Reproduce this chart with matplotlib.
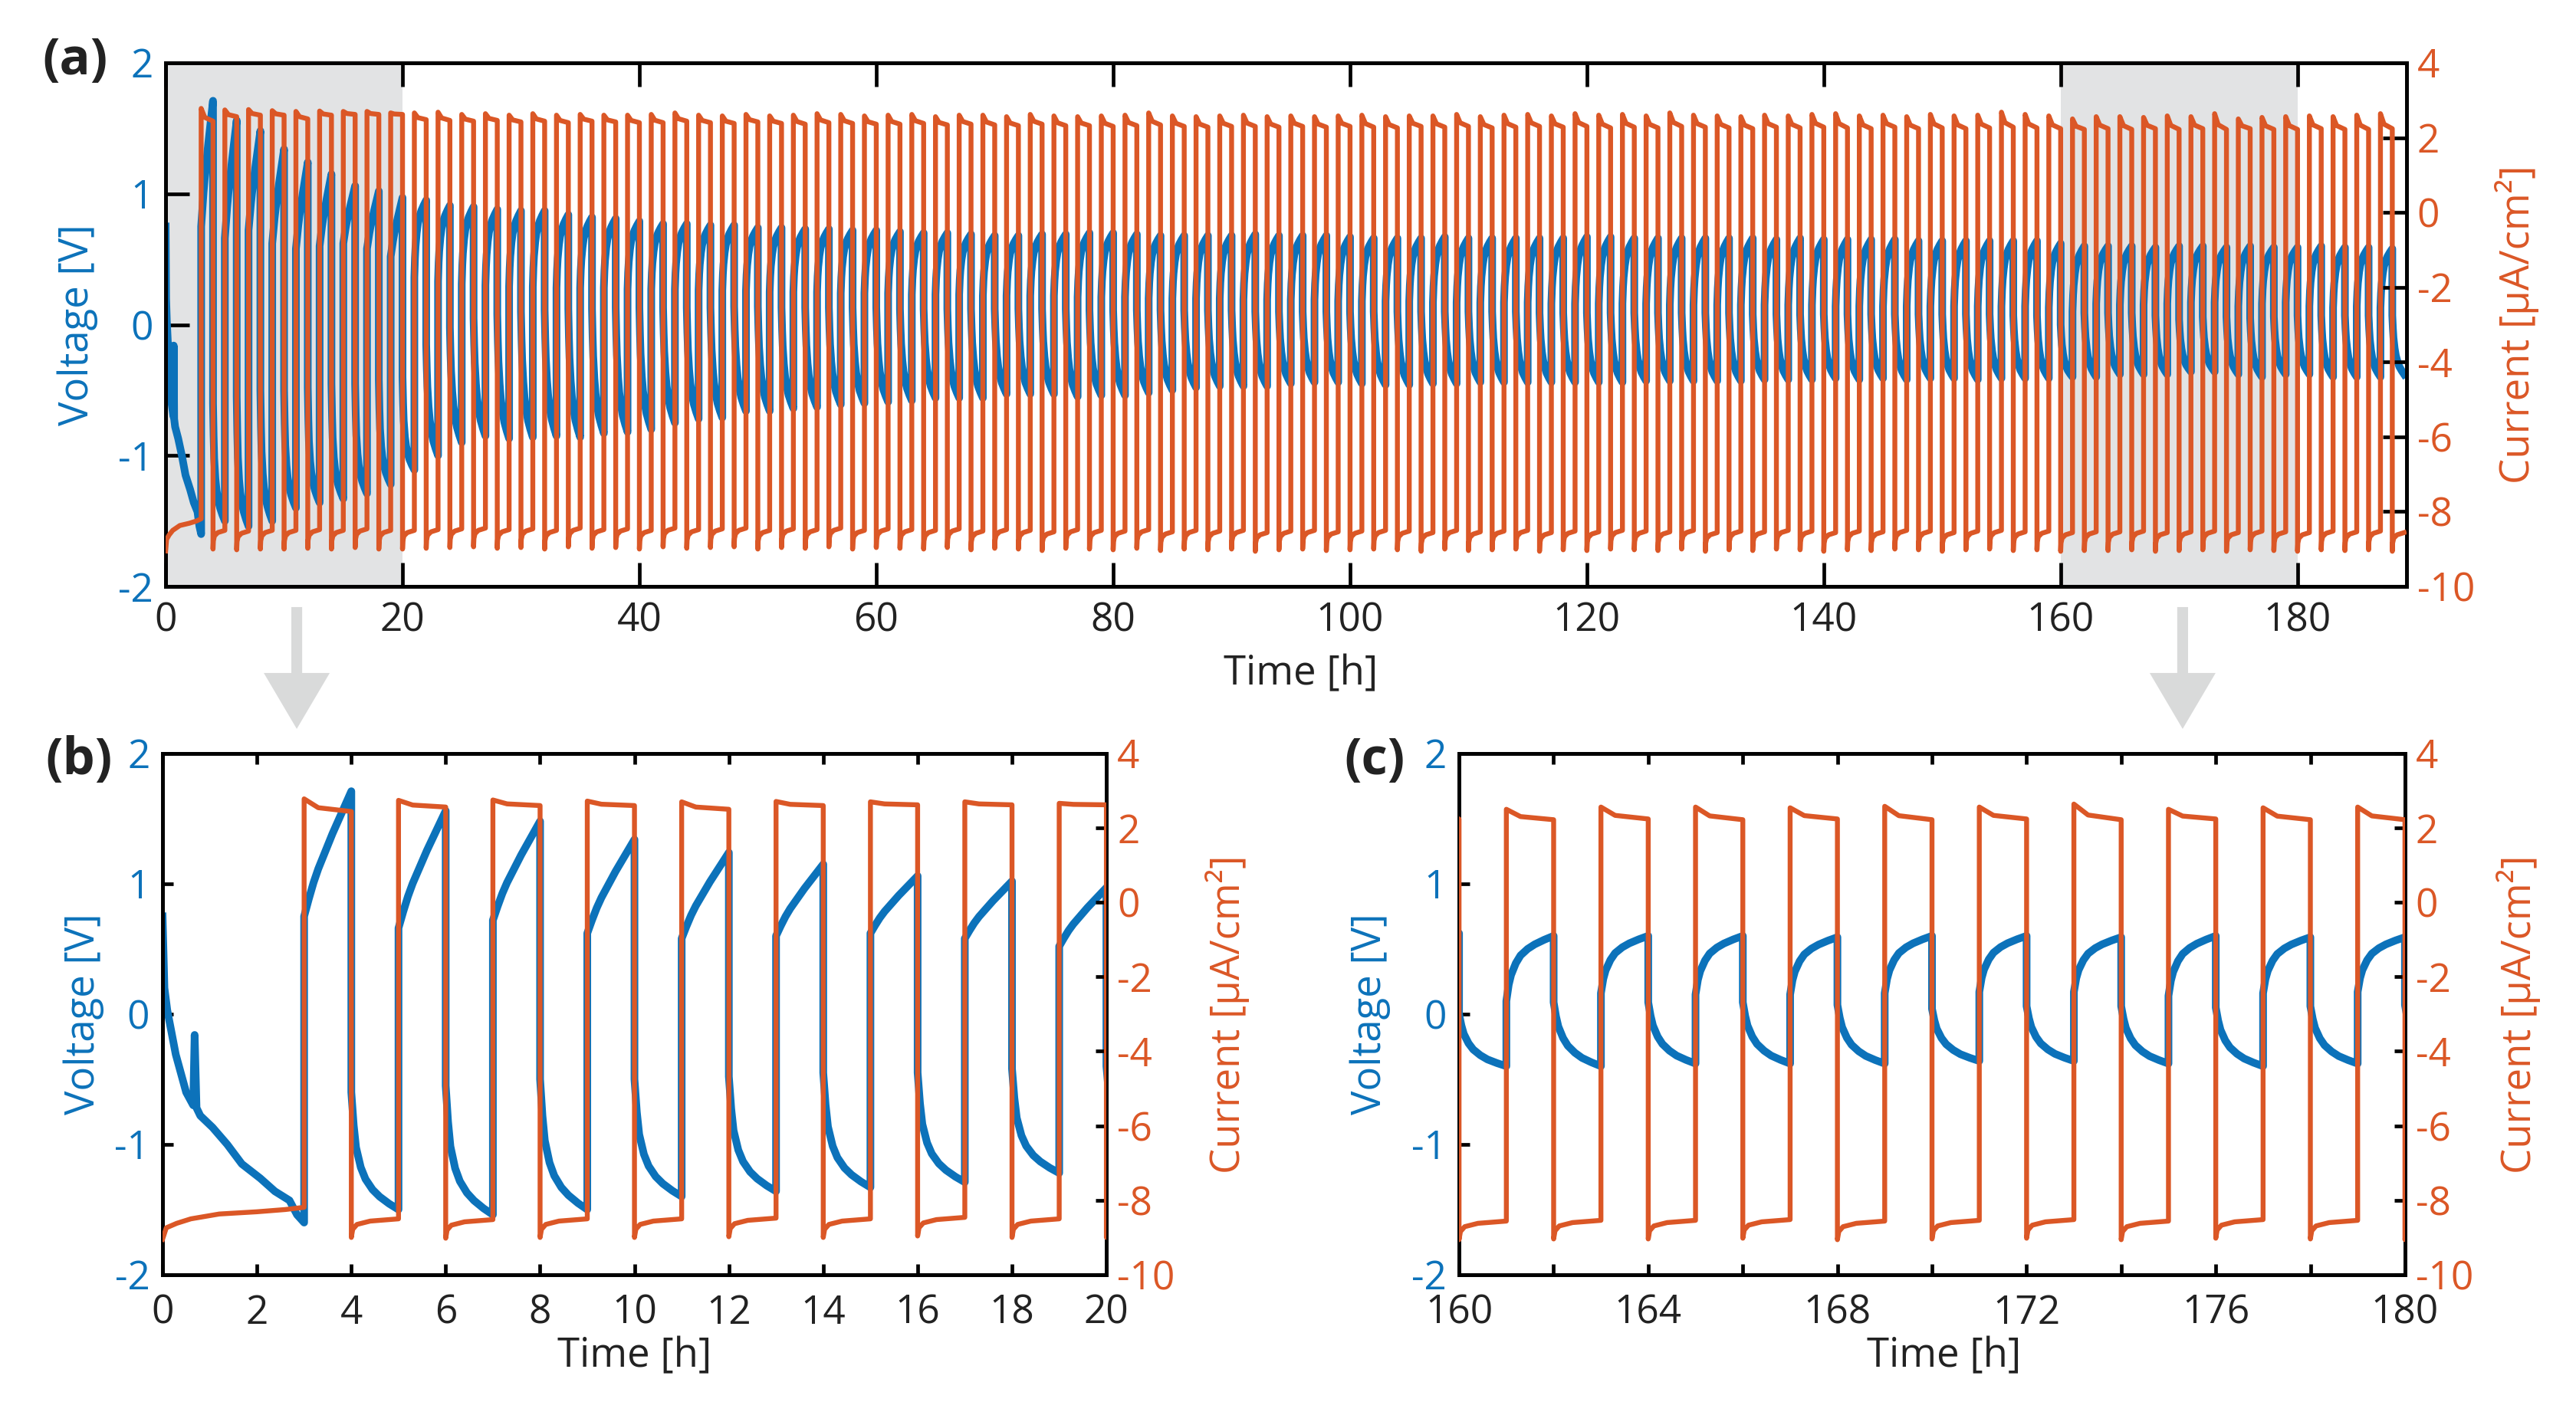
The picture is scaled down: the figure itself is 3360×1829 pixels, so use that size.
import numpy as np
import matplotlib
matplotlib.use("Agg")
import matplotlib.pyplot as plt
from matplotlib.patches import FancyArrow

plt.rcParams["font.family"] = ["Open Sans", "DejaVu Sans"]
plt.rcParams["axes.unicode_minus"] = False

BLUE = "#0C72BA"
ORANGE = "#DB5726"
SHADE = "#E2E3E4"
ARROW = "#D9DADA"
INK = "#222222"

# ---- data ----------------------------------------------------------------
# resting segment before the first pulse (0-3 h)
init_t = [0.0, 0.04, 0.1, 0.28, 0.5, 0.65, 0.68, 0.72, 0.8, 1.06, 1.37, 1.68, 2.07, 2.38, 2.69, 2.85, 3.0]
init_v = [0.75, 0.2, 0.03, -0.31, -0.6, -0.7, -0.16, -0.72, -0.78, -0.87, -1.0, -1.15, -1.26, -1.36, -1.43, -1.54, -1.6]
init_ti = [0.0, 0.08, 0.3, 0.6, 1.2, 2.0, 2.6, 3.0]
init_i = [-9.05, -8.74, -8.62, -8.5, -8.37, -8.31, -8.25, -8.19]

first_rise = 3.0   # first positive current step [h]

# voltage per cycle: value after the step and value at the end of each half-cycle
vp_start = [0.75, 0.66, 0.72, 0.62, 0.58, 0.60, 0.62, 0.58, 0.52, 0.36,
            0.33, 0.31, 0.30, 0.29, 0.29, 0.28, 0.28, 0.28, 0.27, 0.27,
            0.27, 0.26, 0.26, 0.26, 0.25, 0.25, 0.25, 0.24, 0.24, 0.24,
            0.23, 0.23, 0.23, 0.22, 0.22, 0.22, 0.22, 0.21, 0.21, 0.21,
            0.20, 0.20, 0.20, 0.20, 0.19, 0.19, 0.19, 0.19, 0.18, 0.18,
            0.18, 0.18, 0.17, 0.17, 0.17, 0.17, 0.17, 0.16, 0.16, 0.16,
            0.16, 0.16, 0.15, 0.15, 0.15, 0.15, 0.15, 0.15, 0.15, 0.14,
            0.14, 0.14, 0.14, 0.14, 0.14, 0.14, 0.14, 0.14, 0.13, 0.10,
            0.16, 0.15, 0.15, 0.16, 0.17, 0.17, 0.14, 0.16, 0.17, 0.14,
            0.13, 0.14, 0.13]
vp_end = [1.71, 1.56, 1.48, 1.34, 1.24, 1.15, 1.06, 1.02, 0.97, 0.95,
          0.91, 0.90, 0.88, 0.87, 0.87, 0.84, 0.82, 0.81, 0.79, 0.77,
          0.77, 0.76, 0.76, 0.74, 0.74, 0.73, 0.73, 0.72, 0.72, 0.71,
          0.70, 0.70, 0.69, 0.68, 0.68, 0.69, 0.69, 0.70, 0.70, 0.69,
          0.68, 0.68, 0.68, 0.68, 0.69, 0.68, 0.68, 0.68, 0.67, 0.66,
          0.66, 0.66, 0.67, 0.66, 0.66, 0.66, 0.66, 0.66, 0.67, 0.67,
          0.66, 0.66, 0.66, 0.66, 0.66, 0.66, 0.65, 0.66, 0.65, 0.65,
          0.65, 0.65, 0.64, 0.64, 0.64, 0.64, 0.64, 0.64, 0.62, 0.60,
          0.60, 0.60, 0.59, 0.60, 0.60, 0.59, 0.60, 0.59, 0.59, 0.60,
          0.59, 0.59, 0.58]
vn_start = [-0.60, -0.55, -0.50, -0.50, -0.48, -0.45, -0.45, -0.42, -0.40, -0.15,
            -0.02, 0.05, 0.08, 0.10, 0.11, 0.12, 0.12, 0.13, 0.13, 0.13,
            0.13, 0.13, 0.14, 0.14, 0.13, 0.13, 0.13, 0.13, 0.13, 0.12,
            0.12, 0.12, 0.12, 0.12, 0.12, 0.12, 0.12, 0.11, 0.11, 0.11,
            0.11, 0.11, 0.11, 0.11, 0.10, 0.10, 0.10, 0.10, 0.10, 0.10,
            0.10, 0.10, 0.10, 0.10, 0.10, 0.10, 0.09, 0.09, 0.09, 0.09,
            0.09, 0.09, 0.09, 0.09, 0.09, 0.08, 0.08, 0.08, 0.08, 0.08,
            0.08, 0.08, 0.08, 0.08, 0.08, 0.08, 0.07, 0.07, 0.00, 0.09,
            0.09, 0.09, 0.07, 0.04, 0.06, 0.06, 0.05, 0.06, 0.07, 0.07,
            0.07, 0.07, 0.07]
vn_end = [-1.50, -1.54, -1.50, -1.40, -1.36, -1.33, -1.29, -1.22, -1.11, -1.00,
          -0.90, -0.85, -0.87, -0.86, -0.85, -0.86, -0.83, -0.82, -0.80, -0.75,
          -0.72, -0.71, -0.66, -0.66, -0.64, -0.63, -0.61, -0.60, -0.59, -0.58,
          -0.56, -0.56, -0.56, -0.53, -0.53, -0.53, -0.55, -0.54, -0.54, -0.52,
          -0.50, -0.48, -0.47, -0.47, -0.47, -0.45, -0.44, -0.44, -0.45, -0.46,
          -0.46, -0.45, -0.45, -0.44, -0.44, -0.44, -0.44, -0.44, -0.44, -0.44,
          -0.43, -0.43, -0.43, -0.43, -0.43, -0.42, -0.42, -0.42, -0.41, -0.42,
          -0.41, -0.42, -0.41, -0.41, -0.42, -0.41, -0.41, -0.41, -0.40, -0.40,
          -0.38, -0.38, -0.38, -0.36, -0.36, -0.38, -0.40, -0.38, -0.38, -0.40,
          -0.40, -0.40, -0.38]

# current per cycle [uA/cm2]
i_pos_start = [2.78, 2.74, 2.75, 2.72, 2.70, 2.71, 2.70, 2.70, 2.66, 2.66,
               2.68, 2.62, 2.64, 2.60, 2.64, 2.60, 2.62, 2.60, 2.60, 2.62,
               2.66, 2.60, 2.58, 2.62, 2.58, 2.60, 2.64, 2.62, 2.58, 2.60,
               2.62, 2.56, 2.60, 2.60, 2.56, 2.62, 2.58, 2.56, 2.58, 2.60,
               2.66, 2.58, 2.56, 2.58, 2.60, 2.56, 2.58, 2.56, 2.58, 2.60,
               2.56, 2.58, 2.58, 2.62, 2.56, 2.60, 2.62, 2.58, 2.64, 2.60,
               2.62, 2.58, 2.66, 2.60, 2.58, 2.56, 2.60, 2.58, 2.62, 2.64,
               2.58, 2.60, 2.56, 2.62, 2.58, 2.60, 2.68, 2.62, 2.58, 2.50,
               2.56, 2.56, 2.54, 2.58, 2.56, 2.64, 2.50, 2.54, 2.56, 2.58,
               2.56, 2.60, 2.64]
i_pos_end = [2.44, 2.56, 2.60, 2.60, 2.50, 2.60, 2.62, 2.62, 2.62, 2.48,
             2.46, 2.44, 2.46, 2.42, 2.44, 2.40, 2.44, 2.42, 2.40, 2.40,
             2.44, 2.40, 2.38, 2.42, 2.38, 2.36, 2.40, 2.38, 2.36, 2.36,
             2.38, 2.34, 2.36, 2.34, 2.32, 2.36, 2.32, 2.32, 2.30, 2.32,
             2.34, 2.30, 2.28, 2.30, 2.30, 2.28, 2.30, 2.28, 2.30, 2.28,
             2.26, 2.30, 2.28, 2.30, 2.26, 2.28, 2.30, 2.28, 2.30, 2.26,
             2.28, 2.26, 2.30, 2.28, 2.26, 2.24, 2.28, 2.26, 2.28, 2.26,
             2.24, 2.28, 2.24, 2.26, 2.24, 2.26, 2.28, 2.26, 2.24, 2.22,
             2.24, 2.22, 2.24, 2.22, 2.24, 2.22, 2.24, 2.22, 2.22, 2.24,
             2.22, 2.22, 2.24]
i_neg_end = [-8.50, -8.52, -8.50, -8.50, -8.48, -8.50, -8.46, -8.50, -8.50, -8.48,
             -8.46, -8.44, -8.48, -8.46, -8.50, -8.44, -8.48, -8.46, -8.50, -8.44,
             -8.48, -8.46, -8.44, -8.50, -8.46, -8.48, -8.44, -8.50, -8.46, -8.48,
             -8.50, -8.46, -8.52, -8.48, -8.50, -8.54, -8.48, -8.50, -8.52, -8.48,
             -8.54, -8.50, -8.52, -8.50, -8.56, -8.52, -8.50, -8.54, -8.52, -8.50,
             -8.52, -8.56, -8.50, -8.54, -8.52, -8.50, -8.56, -8.52, -8.54, -8.50,
             -8.52, -8.54, -8.50, -8.56, -8.52, -8.54, -8.50, -8.52, -8.56, -8.52,
             -8.54, -8.50, -8.52, -8.56, -8.52, -8.50, -8.54, -8.52, -8.56, -8.54,
             -8.54, -8.52, -8.56, -8.54, -8.52, -8.56, -8.52, -8.54, -8.56, -8.52,
             -8.54, -8.52, -8.56]

# shape of one half-cycle (b) and (c): share of the way from
# the value after the step to the end value, at these offsets [h]
prof_t = [0.0, 0.05, 0.1, 0.2, 0.3, 0.45, 0.6, 0.8, 1.0]
pos_frac_early = [0.0, 0.07, 0.14, 0.27, 0.38, 0.52, 0.66, 0.83, 1.0]
pos_frac_late = [0.0, 0.25, 0.40, 0.58, 0.70, 0.80, 0.87, 0.94, 1.0]
neg_frac_early = [0.0, 0.28, 0.47, 0.64, 0.74, 0.83, 0.89, 0.95, 1.0]
neg_frac_late = [0.0, 0.22, 0.38, 0.56, 0.68, 0.79, 0.87, 0.94, 1.0]
cur_pos_t = [0.0, 0.3, 1.0]
cur_pos_frac = [0.0, 0.7, 1.0]
cur_neg_t = [0.0, 0.03, 0.12, 0.4, 1.0]
cur_neg_rel = [-0.5, -0.28, -0.15, -0.06, 0.0]


def build_series():
    tv, v = list(init_t), list(init_v)
    ti, cur = list(init_ti), list(init_i)
    for k in range(len(vp_end)):
        t0 = first_rise + 2 * k
        early = t0 < 20
        pos_frac = pos_frac_early if early else pos_frac_late
        neg_frac = neg_frac_early if early else neg_frac_late
        for o, f in zip(prof_t, pos_frac):
            tv.append(t0 + o)
            v.append(vp_start[k] + f * (vp_end[k] - vp_start[k]))
        for o, f in zip(prof_t, neg_frac):
            tv.append(t0 + 1 + o)
            v.append(vn_start[k] + f * (vn_end[k] - vn_start[k]))
        for o, f in zip(cur_pos_t, cur_pos_frac):
            ti.append(t0 + o)
            cur.append(i_pos_start[k] + f * (i_pos_end[k] - i_pos_start[k]))
        for o, r in zip(cur_neg_t, cur_neg_rel):
            ti.append(t0 + 1 + o)
            cur.append(i_neg_end[k] + r)
    return np.array(tv), np.array(v), np.array(ti), np.array(cur)


tv, volt, ti, curr = build_series()

fig = plt.figure(figsize=(16.8, 9.145), dpi=200)


def panel(rect, xlim, xticks, xlabels, ticklen, xpad, vlab_x, ilab_x, tlab, shade=()):
    ax = fig.add_axes(rect)
    for a, b in shade:
        ax.axvspan(a, b, color=SHADE, lw=0, zorder=0)
    ax.plot(tv, volt, color=BLUE, lw=3.6, solid_joinstyle="round", zorder=2)
    ax.set_xlim(*xlim)
    ax.set_ylim(-2, 2)
    ax.set_yticks([-2, -1, 0, 1, 2])
    ax.set_xticks(xticks)
    ax.set_xticklabels(xlabels)
    ax.tick_params(axis="x", direction="in", top=True, bottom=True, length=ticklen,
                   width=1.7, labelsize=18.5, labelcolor=INK, pad=xpad)
    ax.tick_params(axis="y", direction="in", left=True, right=False, length=ticklen,
                   width=1.7, labelsize=18.5, labelcolor=BLUE, pad=6)
    ax.set_ylabel("Voltage [V]", color=BLUE, fontsize=19, va="center")
    ax.yaxis.set_label_coords(vlab_x, 0.5)
    ax.set_xlabel("Time [h]", color=INK, fontsize=19, va="center")
    ax.xaxis.set_label_coords(tlab[0], tlab[1])

    ax2 = ax.twinx()
    ax2.plot(ti, curr, color=ORANGE, lw=2.3, zorder=3)
    ax2.set_ylim(-10, 4)
    ax2.set_yticks(np.arange(-10, 5, 2))
    ax2.tick_params(axis="y", direction="in", right=True, left=False, length=ticklen,
                    width=1.7, labelsize=18.5, labelcolor=ORANGE, pad=5)
    ax2.set_ylabel("Current [μA/cm²]", color=ORANGE, fontsize=19, va="center")
    ax2.yaxis.set_label_coords(ilab_x, 0.5)
    for a in (ax, ax2):
        for s in a.spines.values():
            s.set_linewidth(1.7)
            s.set_color("black")
    return ax, ax2


# (a) whole run
xt_a = list(range(0, 181, 20))
panel([0.0643, 0.5817, 0.8699, 0.3735], (0, 189.2), xt_a, [str(x) for x in xt_a],
      11, 7, -0.0393, 1.0493, (0.5067, -0.167), shade=[(0, 20), (160, 180)])

# (b) first 20 h
xt_b = list(range(0, 21, 2))
panel([0.0631, 0.0908, 0.3664, 0.3718], (0, 20), xt_b, [str(x) for x in xt_b],
      5, 9, -0.0837, 1.128, (0.5, -0.157))

# (c) 160-180 h
xt_c = list(range(160, 181, 2))
panel([0.5664, 0.0908, 0.3672, 0.3718], (160, 180), xt_c,
      [str(x) if x % 4 == 0 else "" for x in xt_c],
      5, 9, -0.094, 1.12, (0.513, -0.157))

# panel letters
for x, y, s in [(0.0292, 0.9568, "(a)"), (0.0307, 0.4576, "(b)"), (0.5336, 0.4576, "(c)")]:
    fig.text(x, y, s, fontsize=24, fontweight="bold", color=INK, ha="center", va="center")

# grey arrows from the shaded windows down to the zoomed panels
for xc in (0.1152, 0.8473):
    fig.add_artist(FancyArrow(xc, 0.5670, 0, -0.0869, width=0.0042, head_width=0.0256,
                              head_length=0.0399, length_includes_head=True,
                              color=ARROW, lw=0, transform=fig.transFigure))

fig.savefig("out.png", dpi=200)
